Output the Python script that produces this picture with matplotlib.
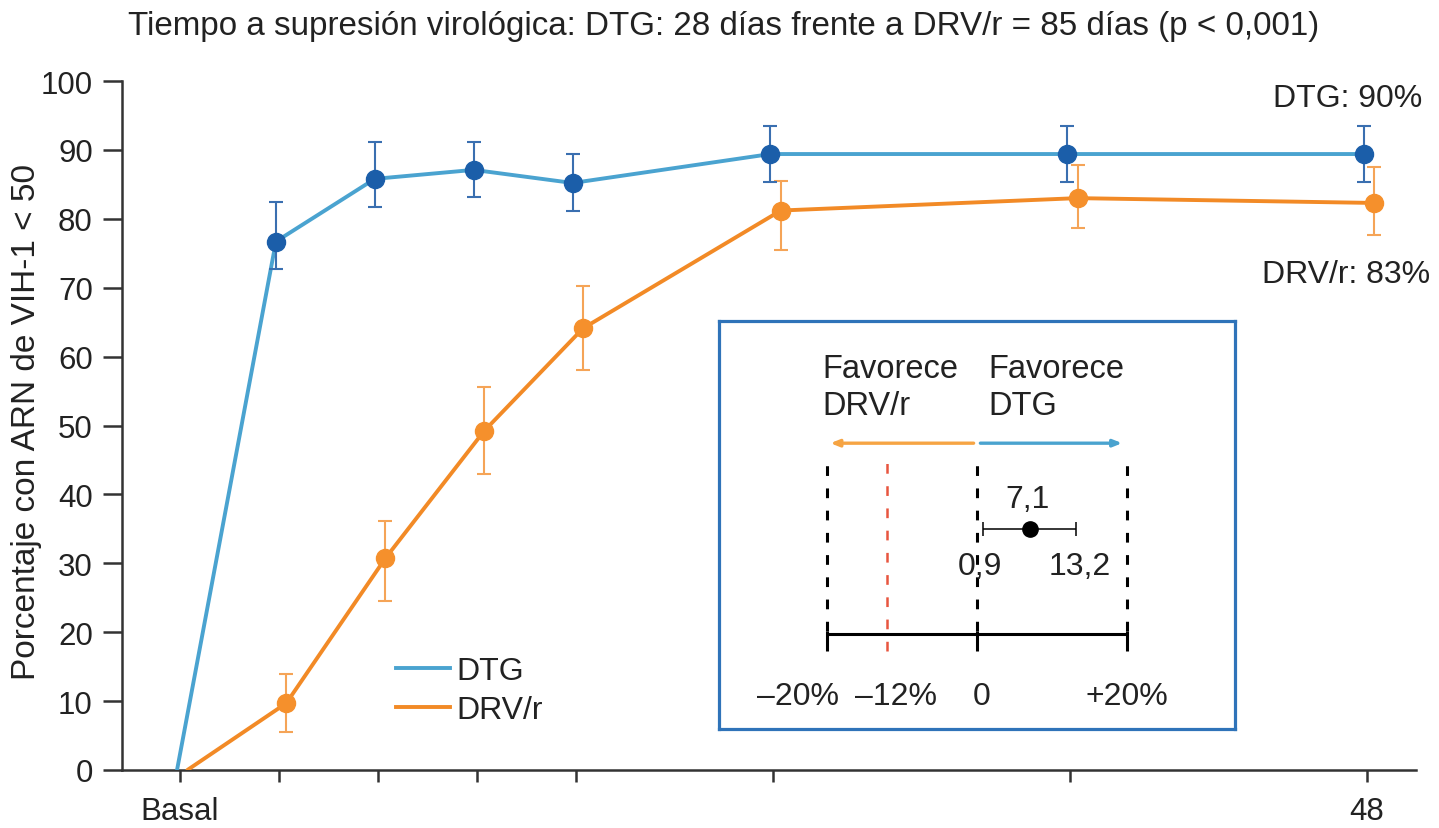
import matplotlib
matplotlib.use("Agg")
import matplotlib.pyplot as plt
from matplotlib import font_manager
from matplotlib.lines import Line2D

# ---------------- data ----------------
weeks = [0, 4, 8, 12, 16, 24, 36, 48]
week_labels = ["Basal", "", "", "", "", "", "", "48"]
dtg = [0, 76.7, 85.8, 87.1, 85.2, 89.4, 89.4, 89.4]
dtg_low = [0, 72.7, 81.7, 83.1, 81.2, 85.4, 85.4, 85.4]
dtg_high = [0, 82.4, 91.1, 91.2, 89.4, 93.5, 93.5, 93.5]
drv = [0, 9.7, 30.7, 49.2, 64.1, 81.2, 83.0, 82.3]
drv_low = [0, 5.5, 24.6, 43.0, 58.1, 75.4, 78.7, 77.7]
drv_high = [0, 13.9, 36.1, 55.6, 70.3, 85.5, 87.8, 87.5]
series_names = ["DTG", "DRV/r"]
final_labels = ["DTG: 90%", "DRV/r: 83%"]
title_text = "Tiempo a supresión virológica: DTG: 28 días frente a DRV/r = 85 días (p < 0,001)"
ylabel_text = "Porcentaje con ARN de VIH-1 < 50"

# inset (difference in response, %)
margin_ticks = [-20, -12, 0, 20]
margin_labels = ["–20%", "–12%", "0", "+20%"]
noninf_margin = -12
diff_est = 7.1
diff_ci = [0.9, 13.2]
diff_labels = ["7,1", "0,9", "13,2"]
favor_labels = ["Favorece\nDRV/r", "Favorece\nDTG"]

# ---------------- style ----------------
W, H = 1439, 829
names = {f.name for f in font_manager.fontManager.ttflist}
BASE = "Liberation Sans" if "Liberation Sans" in names else "DejaVu Sans"
NARROW = "Liberation Sans Narrow" if "Liberation Sans Narrow" in names else BASE
plt.rcParams["font.family"] = [BASE, "DejaVu Sans"]
plt.rcParams["lines.scale_dashes"] = False

TXT = "#222222"
C_DTG_LINE = "#4aa3d0"
C_DTG_MARK = "#1b5ea9"
C_DTG_ERR = "#3a6fb0"
C_DRV_LINE = "#f28a26"
C_DRV_MARK = "#f5902c"
C_DRV_ERR = "#f5a457"
C_BOX = "#2f73b9"
C_RED = "#e8553f"
C_AX = "#333333"

fig = plt.figure(figsize=(W / 100, H / 100), dpi=100)

# ---------------- main axes ----------------
ax = fig.add_axes([122 / W, 1 - 771 / H, (1416 - 122) / W, (771 - 82) / H])
ax.set_xlim(-2.346, 49.99)
ax.set_ylim(0, 100)

dtg_x = [w - 0.12 for w in weeks]
drv_x = [w + 0.3 for w in weeks]

ax.plot(drv_x, drv, color=C_DRV_LINE, lw=2.8, zorder=3, solid_capstyle="round")
ax.errorbar(drv_x[1:], drv[1:],
            yerr=[[v - l for v, l in zip(drv[1:], drv_low[1:])],
                  [h - v for v, h in zip(drv[1:], drv_high[1:])]],
            fmt="o", color=C_DRV_MARK, ms=13, ecolor=C_DRV_ERR,
            elinewidth=1.5, capsize=5, capthick=1.5, zorder=4)
ax.plot(dtg_x, dtg, color=C_DTG_LINE, lw=2.8, zorder=5, solid_capstyle="round")
ax.errorbar(dtg_x[1:], dtg[1:],
            yerr=[[v - l for v, l in zip(dtg[1:], dtg_low[1:])],
                  [h - v for v, h in zip(dtg[1:], dtg_high[1:])]],
            fmt="o", color=C_DTG_MARK, ms=13, ecolor=C_DTG_ERR,
            elinewidth=1.5, capsize=5, capthick=1.5, zorder=6)

for s in ("top", "right"):
    ax.spines[s].set_visible(False)
for s in ("left", "bottom"):
    ax.spines[s].set_linewidth(1.8)
    ax.spines[s].set_color(C_AX)

ax.set_yticks(range(0, 101, 10))
ax.set_xticks(weeks)
ax.set_xticklabels(week_labels)
ax.tick_params(axis="y", direction="out", length=14, width=1.8, color=C_AX,
               pad=7, labelsize=22.5, labelcolor=TXT)
ax.tick_params(axis="x", direction="out", length=8.6, width=1.8, color=C_AX,
               pad=10, labelsize=22.5, labelcolor=TXT)

# end labels
ax.text(50.23, 97.6, final_labels[0], ha="right", va="center", fontsize=23,
        color=TXT, clip_on=False)
ax.text(50.55, 72.0, final_labels[1], ha="right", va="center", fontsize=23,
        color=TXT, clip_on=False)

# legend
handles = [Line2D([], [], color=C_DTG_LINE, lw=2.8),
           Line2D([], [], color=C_DRV_LINE, lw=2.8)]
leg = ax.legend(handles, series_names, loc="upper left",
                bbox_to_anchor=(396 / W, 1 - 657 / H), bbox_transform=fig.transFigure,
                frameon=False, fontsize=23, handlelength=1.7, handletextpad=0.2,
                labelspacing=0.28, borderpad=0, borderaxespad=0)
for t in leg.get_texts():
    t.set_color(TXT)

# title and y label
title = fig.text(724 / W, 1 - 26 / H, title_text, ha="center", va="center",
                 fontsize=20, color=TXT, family=[NARROW, "DejaVu Sans"])
ylab = fig.text(27 / W, 1 - 422.5 / H, ylabel_text, ha="center", va="center",
                rotation=90, fontsize=20, color=TXT, family=[NARROW, "DejaVu Sans"])

fig.canvas.draw()
r = fig.canvas.get_renderer()
tw = title.get_window_extent(r).width
title.set_fontsize(title.get_fontsize() * 1193 / tw)
yh = ylab.get_window_extent(r).height
ylab.set_fontsize(ylab.get_fontsize() * 515 / yh)

# ---------------- inset ----------------
ax2 = fig.add_axes([719 / W, 1 - 730 / H, 516 / W, 408.3 / H])
ax2.set_xlim(-34.35, 34.45)
ax2.set_ylim(0, 1)
ax2.set_xticks([])
ax2.set_yticks([])
for s in ax2.spines.values():
    s.set_color(C_BOX)
    s.set_linewidth(2.3)
ax2.set_zorder(10)

Y_FAV, Y_ARROW = 0.838, 0.700
Y_DTOP, Y_DBOT, Y_RBOT = 0.653, 0.241, 0.192
Y_AXIS, Y_TTOP, Y_TBOT = 0.2327, 0.241, 0.192
Y_PT, Y_EST, Y_CI, Y_BOT = 0.490, 0.563, 0.400, 0.0816

bounds = [margin_ticks[0], margin_ticks[2], margin_ticks[3]]
ax2.vlines(bounds, Y_DBOT, Y_DTOP, colors="black", lw=2.2,
           linestyles=[(0, (7, 9))])
ax2.vlines([noninf_margin], Y_RBOT, Y_DTOP, colors=C_RED, lw=1.8,
           linestyles=[(0, (7, 9))], zorder=4)
ax2.hlines(Y_AXIS, bounds[0], bounds[-1], colors="black", lw=2.2)
ax2.vlines(bounds, Y_TBOT, Y_TTOP, colors="black", lw=2.2)

ax2.annotate("", xy=(margin_ticks[0] + 0.5, Y_ARROW), xytext=(-0.4, Y_ARROW),
             arrowprops=dict(arrowstyle="-|>,head_length=0.5,head_width=0.2",
                             color="#f6a443", lw=2.4, shrinkA=0, shrinkB=0))
ax2.annotate("", xy=(margin_ticks[3] - 0.6, Y_ARROW), xytext=(0.5, Y_ARROW),
             arrowprops=dict(arrowstyle="-|>,head_length=0.5,head_width=0.2",
                             color="#4aa3cf", lw=2.4, shrinkA=0, shrinkB=0))

ax2.errorbar([diff_est], [Y_PT],
             xerr=[[diff_est - diff_ci[0]], [diff_ci[1] - diff_est]],
             fmt="o", color="black", ms=11, elinewidth=1.1, capsize=4.7,
             capthick=1.1, zorder=5)

ax2.text(diff_est - 0.3, Y_EST, diff_labels[0], ha="center", va="center",
         fontsize=23, color=TXT)
ax2.text(diff_ci[0] - 0.4, Y_CI, diff_labels[1], ha="center", va="center",
         fontsize=23, color=TXT)
ax2.text(diff_ci[1] + 0.6, Y_CI, diff_labels[2], ha="center", va="center",
         fontsize=23, color=TXT)

ax2.text(-20.6, Y_FAV, favor_labels[0], ha="left", va="center", fontsize=23.5,
         color=TXT, linespacing=1.25)
ax2.text(1.6, Y_FAV, favor_labels[1], ha="left", va="center", fontsize=23.5,
         color=TXT, linespacing=1.25)

label_shift = [-3.8, 1.2, 0.6, 0.0]
for v, lab, d in zip(margin_ticks, margin_labels, label_shift):
    ax2.text(v + d, Y_BOT, lab, ha="center", va="center", fontsize=23, color=TXT)

fig.savefig("out.png", dpi=100)
